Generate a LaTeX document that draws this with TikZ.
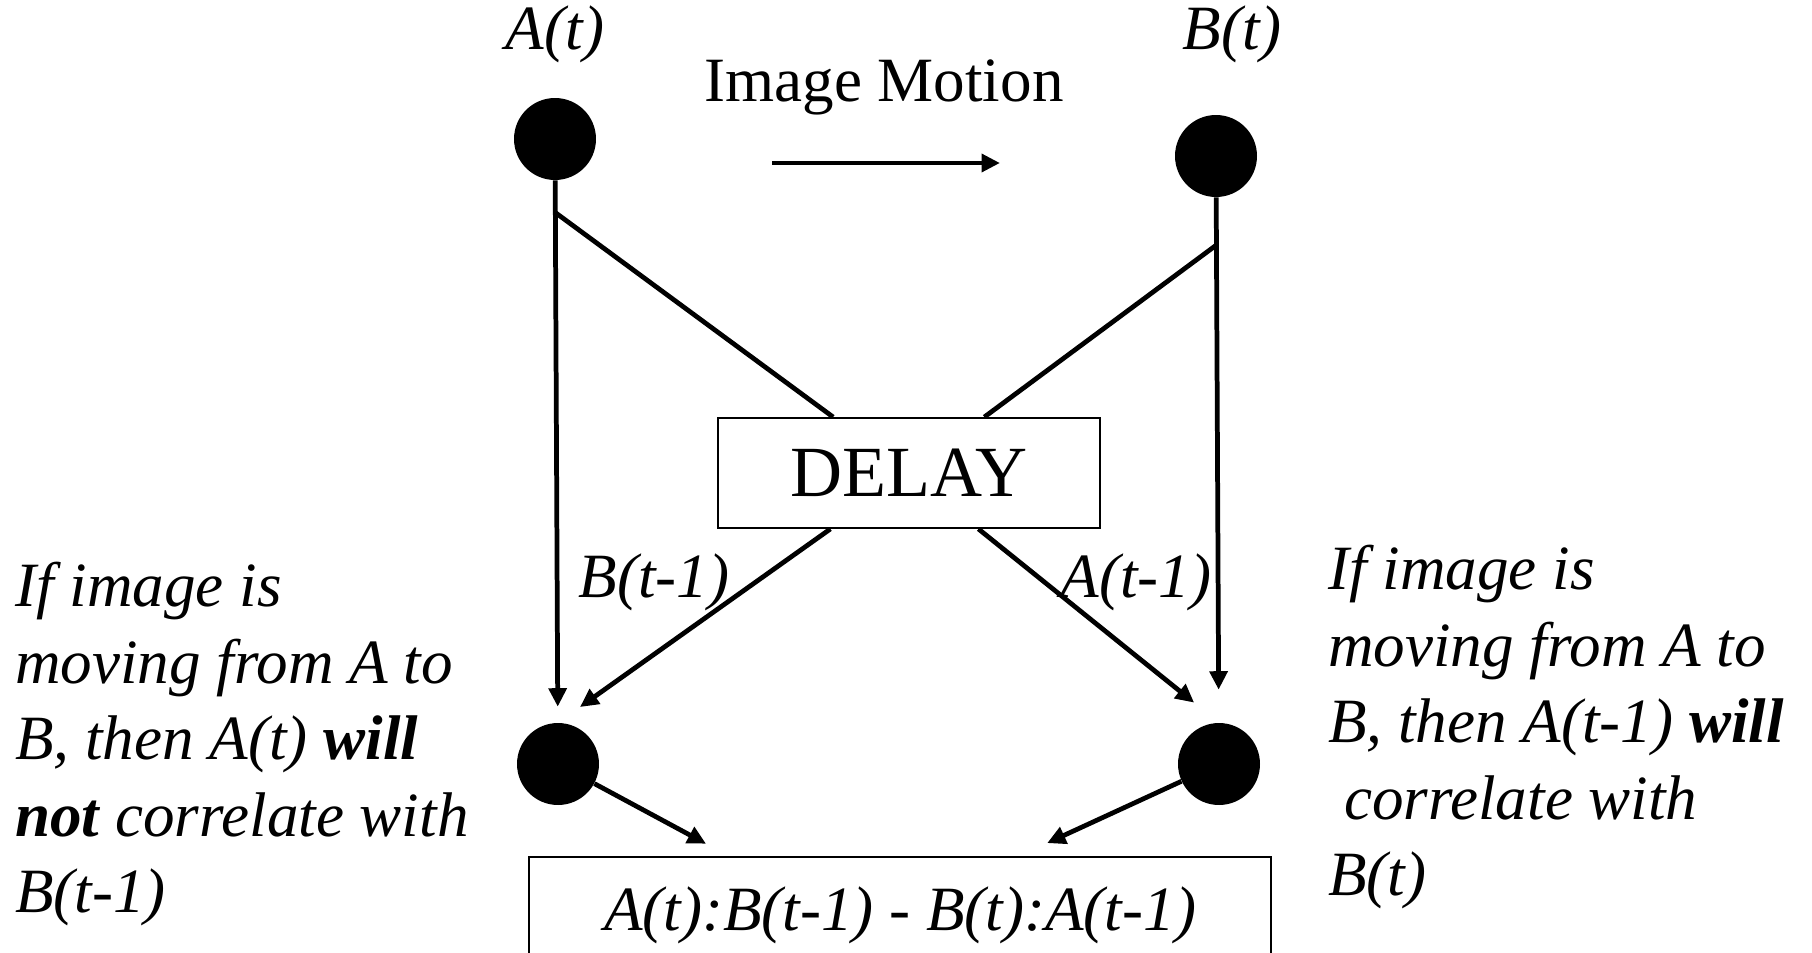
\documentclass[tikz,border=0pt]{standalone}
\usepackage{fontspec}
\setmainfont{Liberation Serif}
\usetikzlibrary{arrows.meta,positioning,calc}
\newcommand{\txtsize}{\fontsize{35.9pt}{43.5pt}\selectfont}
\newcommand{\delaysize}{\fontsize{41pt}{48pt}\selectfont}
\tikzset{
  cell/.style={circle, fill=black, inner sep=0pt, minimum size=1.64cm},
  tag/.style={inner sep=0pt, font=\txtsize\itshape},
  note/.style={inner sep=0pt, align=left, font=\txtsize\itshape},
  unit/.style={draw, line width=1.1pt, inner sep=0pt, fill=white},
  wire/.style={line width=2.7pt},
  flow/.style={wire, -{Triangle[length=10.5pt, width=10pt]}}
}
\begin{document}
\begin{tikzpicture}[x=0.02cm, y=-0.02cm]
  \useasboundingbox (0,0) rectangle (1812,953);
  \clip (0,0) rectangle (1812,953);
  % receptors
  \node[cell] (A) at (555,139) {};
  \node[cell] (B) at (1216,156) {};
  \node[cell] (C) at (558,764) {};
  \node[cell] (D) at (1219,764) {};
  \node[tag, above=0.68cm of A] (Alab) {A(t)};
  \node[tag, above=1.02cm of B, xshift=0.32cm] (Blab) {B(t)};
  % motion hint
  \node[font=\txtsize, inner sep=0pt] (motion) at (884,87) {Image Motion};
  \coordinate (m0) at (772,163);
  \coordinate (m1) at (1000,163);
  \draw[flow] (m0) -- (m1);
  % delay and output
  \node[unit, minimum width=7.64cm, minimum height=2.2cm, font=\delaysize] (delay) at (909,473) {DELAY};
  \node[unit, minimum width=14.84cm, minimum height=2.32cm, font=\txtsize\itshape] (res) at (900,915) {A(t):B(t-1) - B(t):A(t-1)};
  \coordinate (Asplit) at ([yshift=-0.64cm]A.south);
  \coordinate (Bsplit) at ([yshift=-0.96cm]B.south);
  \draw[flow, shorten >=0.32cm] (A) -- (C);
  \draw[flow, shorten >=0.66cm] (B) -- (D);
  \draw[wire] (Asplit) -- (delay);
  \draw[wire] (Bsplit) -- (delay);
  \draw[flow, shorten >=0.54cm] (delay) -- (C.north);
  \draw[flow, shorten >=0.64cm] (delay) -- (D.north);
  \coordinate (rl) at ($(res.north west)!0.27!(res.north east)$);
  \coordinate (rr) at ($(res.north west)!0.66!(res.north east)$);
  \draw[flow, shorten >=0.52cm] (C) -- (rl);
  \draw[flow, shorten >=0.62cm] (D) -- (rr);
  \node[tag] (Bdel) at (654,582) {B(t-1)};
  \node[tag] (Adel) at (1136,582) {A(t-1)};
  % explanations
  \node[note, anchor=north west] (lnote) at (15,562) {If image is\\moving from A to\\B, then A(t) \textbf{will}\\\textbf{not} correlate with\\B(t-1)};
  \node[note, anchor=north west] (rnote) at (1328,545) {If image is\\moving from A to\\B, then A(t-1) \textbf{will}\\\hspace*{0.25em}correlate with\\B(t)};
\end{tikzpicture}
\end{document}
